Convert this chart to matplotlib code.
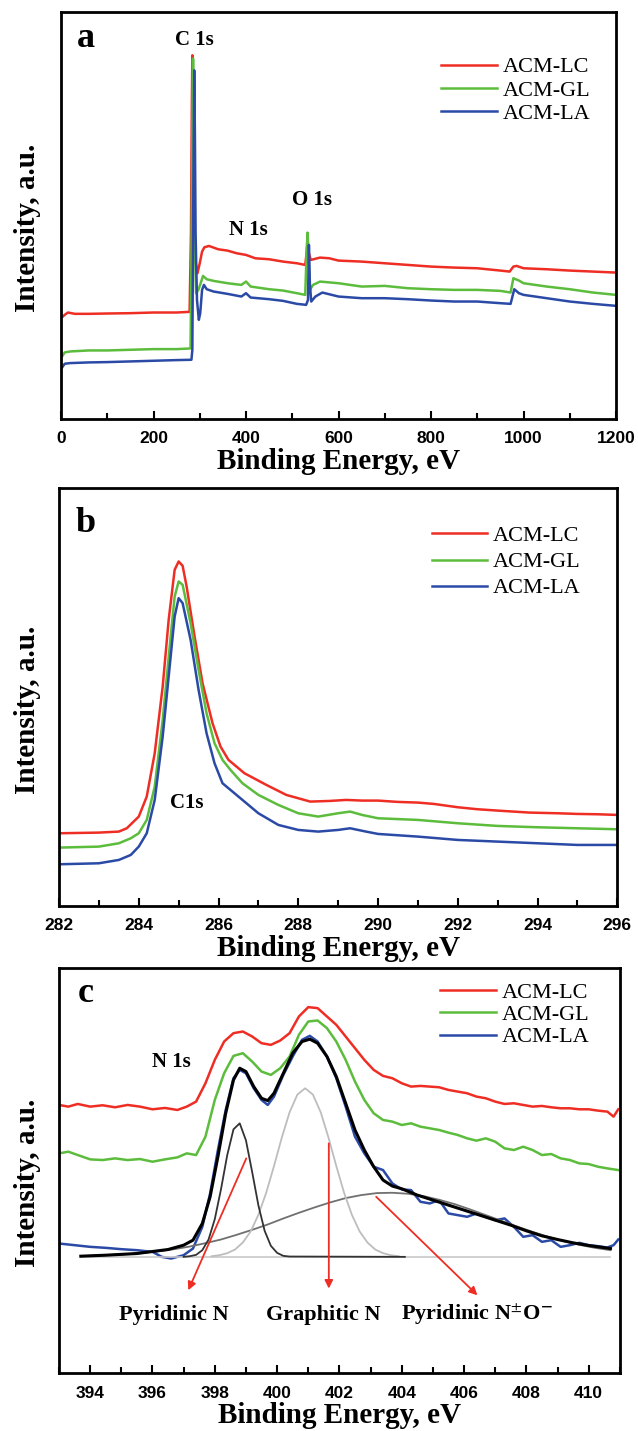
import numpy as np
import matplotlib.pyplot as plt
from matplotlib.ticker import MultipleLocator

plt.rcParams['font.family'] = ['Liberation Serif', 'DejaVu Serif']
plt.rcParams['mathtext.fontset'] = 'stix'

names = ['ACM-LC', 'ACM-GL', 'ACM-LA']
colors = ['#ee2e24', '#5cbc3c', '#2b4aa6']

# ---- panel a : survey spectra (intensity in arbitrary units) ----
a_lc_x = [0, 8, 15, 30, 60, 100, 150, 200, 250, 278, 281, 283, 284, 285.5, 287, 290, 295, 300, 305,
          310, 320, 340, 360, 380, 400, 420, 450, 480, 510, 528, 531, 533, 536, 540, 560, 580, 600,
          650, 700, 750, 800, 850, 900, 950, 970, 978, 985, 1000, 1050, 1100, 1150, 1200]
a_lc_y = [303, 313, 320, 316, 316, 317, 318, 320, 320, 322, 558, 958, 1093, 1008, 658, 478, 438, 468, 503,
          516, 520, 510, 506, 498, 493, 483, 480, 473, 468, 463, 498, 538, 498, 478, 485, 483, 476,
          473, 468, 463, 458, 455, 453, 446, 443, 458, 460, 453, 450, 446, 443, 440]
a_gl_x = [0, 8, 20, 60, 100, 150, 200, 250, 280, 282, 284, 285.5, 287, 289, 292, 297, 302, 307, 315,
          330, 360, 390, 400, 410, 450, 480, 510, 528, 531, 533, 535, 538, 545, 560, 600, 650, 700,
          750, 800, 850, 900, 950, 972, 978, 990, 1000, 1050, 1100, 1150, 1200]
a_gl_y = [183, 200, 203, 206, 206, 208, 210, 210, 212, 458, 858, 1083, 958, 558, 378, 388, 408, 430, 420,
          415, 408, 403, 413, 398, 390, 386, 378, 373, 498, 560, 508, 388, 403, 413, 408, 398, 400,
          393, 390, 388, 388, 385, 380, 423, 416, 408, 398, 390, 380, 373]
a_la_x = [0, 8, 20, 60, 100, 150, 200, 250, 282, 284, 286, 288, 289.5, 291, 294, 298, 301, 305, 309,
          315, 330, 360, 390, 400, 410, 450, 480, 510, 530, 534, 536, 538, 541, 550, 565, 600, 650,
          700, 750, 800, 850, 900, 950, 972, 980, 990, 1000, 1050, 1100, 1150, 1200]
a_la_y = [150, 166, 168, 170, 171, 173, 175, 177, 178, 208, 658, 1048, 858, 558, 358, 298, 318, 388, 403,
          390, 383, 376, 368, 378, 365, 360, 355, 346, 343, 358, 523, 408, 353, 368, 380, 368, 363,
          363, 360, 356, 353, 353, 348, 346, 390, 378, 373, 363, 353, 346, 340]

# ---- panel b : C 1s ----
b_lc_x = [282, 283, 283.5, 283.7, 284, 284.2, 284.4, 284.6, 284.75, 284.9, 285.0, 285.1, 285.2, 285.4,
          285.6, 285.85, 286.05, 286.25, 286.65, 287.2, 287.7, 288.3, 288.8, 289.2, 289.6, 290, 290.5,
          291, 291.4, 292, 292.5, 293, 293.8, 294.5, 295, 295.5, 296]
b_lc_y = [218, 220, 223, 233, 268, 328, 458, 658, 858, 1008, 1033, 1020, 958, 808,
          668, 548, 478, 438, 398, 363, 333, 313, 315, 318, 316, 316, 312,
          310, 306, 296, 290, 286, 280, 278, 276, 275, 273]
b_gl_x = [282, 283, 283.5, 283.8, 284, 284.2, 284.4, 284.6, 284.8, 284.9, 285.0, 285.1, 285.3, 285.5,
          285.7, 285.9, 286.1, 286.3, 286.6, 287, 287.5, 288, 288.5, 289, 289.3, 289.6, 290, 291, 292,
          293, 294, 295, 296]
b_gl_y = [175, 178, 188, 203, 218, 258, 358, 558, 808, 928, 973, 963, 848, 708,
          578, 488, 438, 408, 368, 333, 303, 278, 268, 278, 283, 273, 263, 258, 248,
          240, 236, 233, 230]
b_la_x = [282, 283, 283.5, 283.8, 284, 284.2, 284.4, 284.6, 284.8, 284.9, 285.0, 285.1, 285.3, 285.5,
          285.7, 285.9, 286.1, 286.4, 286.7, 287, 287.5, 288, 288.5, 289, 289.3, 289.7, 290, 291, 292,
          293, 294, 295, 296]
b_la_y = [125, 128, 138, 153, 178, 218, 318, 508, 748, 868, 923, 908, 798, 648,
          518, 428, 368, 338, 308, 278, 243, 228, 223, 228, 233, 223, 216, 208, 198,
          193, 188, 183, 183]

# ---- panel c : N 1s ----
c_lc_x = [393.0, 393.3, 393.6, 394.0, 394.4, 394.8, 395.2, 395.6, 396.0, 396.4, 396.8, 397.1, 397.4,
          397.7, 398.0, 398.3, 398.6, 398.9, 399.2, 399.5, 399.8, 400.1, 400.4, 400.7, 401.0, 401.3,
          401.6, 401.9, 402.2, 402.5, 402.8, 403.1, 403.4, 403.7, 404.0, 404.3, 404.6, 404.9, 405.2,
          405.5, 405.8, 406.1, 406.4, 406.7, 407.0, 407.3, 407.6, 407.9, 408.2, 408.5, 408.8, 409.1,
          409.4, 409.7, 410.0, 410.3, 410.6, 410.8, 410.95]
c_lc_y = [803, 798, 806, 798, 802, 796, 803, 798, 790, 794, 788, 798, 813,
          868, 938, 993, 1018, 1023, 1008, 988, 983, 996, 1018, 1068, 1096, 1093,
          1068, 1043, 1008, 973, 938, 908, 890, 883, 868, 858, 860, 858, 856,
          848, 843, 838, 828, 823, 813, 806, 808, 803, 798, 800, 796, 793,
          793, 790, 790, 786, 783, 768, 790]
c_gl_x = [393.0, 393.3, 393.6, 394.0, 394.4, 394.8, 395.2, 395.6, 396.0, 396.4, 396.8, 397.1, 397.4,
          397.7, 398.0, 398.3, 398.6, 398.9, 399.2, 399.5, 399.8, 400.1, 400.4, 400.7, 401.0, 401.3,
          401.6, 401.9, 402.2, 402.5, 402.8, 403.1, 403.4, 403.7, 404.0, 404.3, 404.6, 404.9, 405.2,
          405.5, 405.8, 406.1, 406.4, 406.7, 407.0, 407.3, 407.6, 407.9, 408.2, 408.5, 408.8, 409.1,
          409.4, 409.7, 410.0, 410.3, 410.6, 410.95]
c_gl_y = [658, 663, 653, 640, 638, 643, 638, 641, 633, 640, 646, 658, 653,
          708, 818, 898, 950, 958, 933, 903, 893, 913, 948, 1013, 1053, 1056,
          1033, 993, 938, 873, 818, 778, 758, 753, 743, 748, 738, 733, 728,
          720, 713, 703, 696, 703, 693, 673, 668, 678, 668, 653, 656, 643,
          638, 628, 626, 618, 613, 608]
c_la_x = [393.0, 393.5, 394.0, 394.5, 395.0, 395.5, 396.0, 396.3, 396.6, 397.0, 397.3, 397.6, 397.85,
          398.1, 398.35, 398.6, 398.8, 399.0, 399.25, 399.5, 399.7, 399.9, 400.2, 400.5, 400.8, 401.05,
          401.3, 401.6, 401.9, 402.2, 402.5, 402.8, 403.1, 403.4, 403.7, 404.0, 404.3, 404.6, 404.9,
          405.2, 405.5, 405.8, 406.1, 406.4, 406.7, 407.0, 407.3, 407.6, 407.9, 408.2, 408.5, 408.8,
          409.1, 409.4, 409.7, 410.0, 410.3, 410.6, 410.8, 410.95]
c_la_y = [388, 383, 378, 375, 371, 368, 363, 348, 343, 353, 373, 438, 538,
          668, 788, 883, 908, 898, 853, 818, 803, 828, 893, 948, 998, 1010,
          993, 948, 883, 798, 708, 658, 618, 608, 568, 550, 548, 513, 508,
          518, 478, 473, 468, 478, 468, 458, 463, 438, 408, 413, 393, 398,
          378, 383, 390, 383, 380, 376, 383, 400]

# fitted envelope and components
fit_x = [393.7, 394.5, 395.5, 396.5, 397.0, 397.3, 397.6, 397.85, 398.1, 398.35, 398.6, 398.8, 399.0,
         399.25, 399.5, 399.7, 399.9, 400.2, 400.5, 400.8, 401.05, 401.3, 401.6, 401.9, 402.2, 402.5,
         402.8, 403.1, 403.4, 403.7, 404.0, 404.5, 405.0, 405.5, 406.0, 406.5, 407.0, 407.5, 408.0,
         408.5, 409.0, 409.5, 410.0, 410.7]
fit_y = [350, 353, 358, 370, 383, 398, 448, 528, 648, 778, 878, 913, 903,
         858, 823, 816, 838, 898, 958, 993, 1000, 988, 948, 888, 808, 728,
         668, 618, 578, 560, 552, 533, 518, 503, 488, 473, 458, 443, 426,
         411, 400, 390, 382, 373]
base_x = [393.7, 410.7]
base_y = [348, 348]
pyr_x = [397.0, 397.2, 397.4, 397.6, 397.8, 398.0, 398.2, 398.4, 398.6, 398.8, 399.0, 399.2, 399.4,
         399.6, 399.8, 400.0, 400.2, 400.4, 404.1]
pyr_y = [348, 350, 354, 368, 400, 461, 551, 653, 730, 748, 697, 602, 502,
         426, 381, 360, 351, 349, 348]
gra_x = [397.9, 398.15, 398.4, 398.65, 398.9, 399.15, 399.4, 399.65, 399.9, 400.15, 400.4, 400.65,
         400.9, 401.15, 401.4, 401.65, 401.9, 402.15, 402.4, 402.65, 402.9, 403.15, 403.4, 403.65, 403.9]
gra_y = [350, 353, 359, 370, 391, 424, 474, 540, 620, 705, 781, 834,
         853, 834, 781, 705, 620, 540, 474, 424, 391, 370, 359, 353, 350]
oxi_x = [393.7, 394.2, 394.7, 395.2, 395.7, 396.2, 396.7, 397.2, 397.7, 398.2, 398.7, 399.2, 399.7,
         400.2, 400.7, 401.2, 401.7, 402.2, 402.7, 403.2, 403.7, 404.2, 404.7, 405.2, 405.7, 406.2,
         406.7, 407.2, 407.7, 408.2, 408.7, 409.2, 409.7, 410.2, 410.7]
oxi_y = [350, 352, 354, 356, 360, 365, 371, 379, 389, 400, 414, 429, 445,
         463, 480, 496, 511, 524, 533, 539, 540, 537, 530, 519, 506, 490,
         473, 456, 439, 423, 408, 395, 384, 375, 368]

tick_font = {'family': 'Liberation Sans', 'weight': 'bold', 'size': 12.5}
lab_font = {'family': 'Liberation Serif', 'weight': 'bold', 'size': 21}


def style_axes(ax, xlim, ylim, major, minor, ylab_x):
    ax.set_xlim(*xlim)
    ax.set_ylim(*ylim)
    ax.xaxis.set_major_locator(MultipleLocator(major))
    ax.xaxis.set_minor_locator(MultipleLocator(minor))
    ax.tick_params(axis='x', which='major', direction='in', length=6, width=1.5, pad=9)
    ax.tick_params(axis='x', which='minor', direction='in', length=4, width=1.5)
    ax.set_yticks([])
    for lab in ax.get_xticklabels():
        lab.set_fontproperties(tick_font)
    for sp in ax.spines.values():
        sp.set_linewidth(2)
    ax.set_xlabel('Binding Energy, eV', fontdict=lab_font, labelpad=1)
    ax.set_ylabel('Intensity, a.u.', fontdict=lab_font)
    ax.yaxis.set_label_coords(ylab_x, 0.47)


def add_legend(ax, x0, y0, spacing):
    ax.legend(loc='upper left', bbox_to_anchor=(x0, y0), frameon=False,
              prop={'family': 'Liberation Serif', 'size': 16}, handlelength=2.5,
              handletextpad=0.25, labelspacing=spacing, borderaxespad=0, borderpad=0)


fig = plt.figure(figsize=(6.38, 14.31), dpi=100)

# panel a
ax1 = fig.add_axes([0.0956, 0.7072, 0.870, 0.2844])
for xs, ys, nm, c in zip([a_lc_x, a_gl_x, a_la_x], [a_lc_y, a_gl_y, a_la_y], names, colors):
    ax1.plot(xs, ys, color=c, lw=1.8, label=nm)
style_axes(ax1, (0, 1200), (0, 1223), 200, 100, -0.036)
add_legend(ax1, 0.685, 0.89, 0.12)
ax1.text(53, 1143, 'a', fontsize=26, fontweight='bold', ha='center', va='center')
ax1.text(289, 1140, 'C 1s', fontsize=15, fontweight='bold', ha='center', va='center')
ax1.text(406, 568, 'N 1s', fontsize=15, fontweight='bold', ha='center', va='center')
ax1.text(543, 658, 'O 1s', fontsize=15, fontweight='bold', ha='center', va='center')

# panel b
ax2 = fig.add_axes([0.0925, 0.3669, 0.875, 0.292])
for xs, ys, nm, c in zip([b_lc_x, b_gl_x, b_la_x], [b_lc_y, b_gl_y, b_la_y], names, colors):
    ax2.plot(xs, ys, color=c, lw=1.8, label=nm)
style_axes(ax2, (282, 296), (0, 1253), 2, 1, -0.033)
add_legend(ax2, 0.668, 0.91, 0.25)
ax2.text(282.67, 1148, 'b', fontsize=26, fontweight='bold', ha='center', va='center')
ax2.text(285.2, 308, 'C1s', fontsize=15, fontweight='bold', ha='center', va='center')

# panel c
ax3 = fig.add_axes([0.0925, 0.0405, 0.879, 0.283])
for xs, ys, nm, c in zip([c_lc_x, c_gl_x, c_la_x], [c_lc_y, c_gl_y, c_la_y], names, colors):
    ax3.plot(xs, ys, color=c, lw=1.8, label=nm)
ax3.plot(base_x, base_y, color='#c8c8c8', lw=1.2)
ax3.plot(oxi_x, oxi_y, color='#707070', lw=1.3)
ax3.plot(gra_x, gra_y, color='#bdbdbd', lw=1.3)
ax3.plot(pyr_x, pyr_y, color='#333333', lw=1.3)
ax3.plot(fit_x, fit_y, color='black', lw=2.2)
style_axes(ax3, (393, 411), (0, 1213), 2, 1, -0.033)
add_legend(ax3, 0.68, 0.965, 0.08)
ax3.text(393.87, 1138, 'c', fontsize=26, fontweight='bold', ha='center', va='center')
ax3.text(396.6, 933, 'N 1s', fontsize=15, fontweight='bold', ha='center', va='center')

arrow = dict(arrowstyle='-|>', color='#ee2e24', lw=1.3, mutation_scale=12, shrinkA=0, shrinkB=0)
ax3.annotate('', xy=(397.15, 248), xytext=(399.01, 643), arrowprops=arrow)
ax3.annotate('', xy=(401.66, 253), xytext=(401.66, 688), arrowprops=arrow)
ax3.annotate('', xy=(406.43, 233), xytext=(403.18, 528), arrowprops=arrow)
ax3.text(396.67, 173, 'Pyridinic N', fontsize=16, fontweight='bold', ha='center', va='center')
ax3.text(401.49, 173, 'Graphitic N', fontsize=16, fontweight='bold', ha='center', va='center')
ax3.text(406.4, 173, r'Pyridinic N$^{\pm}$O$^{\mathbf{-}}$', fontsize=16, fontweight='bold',
         ha='center', va='center')

fig.savefig('out.png', dpi=100)
